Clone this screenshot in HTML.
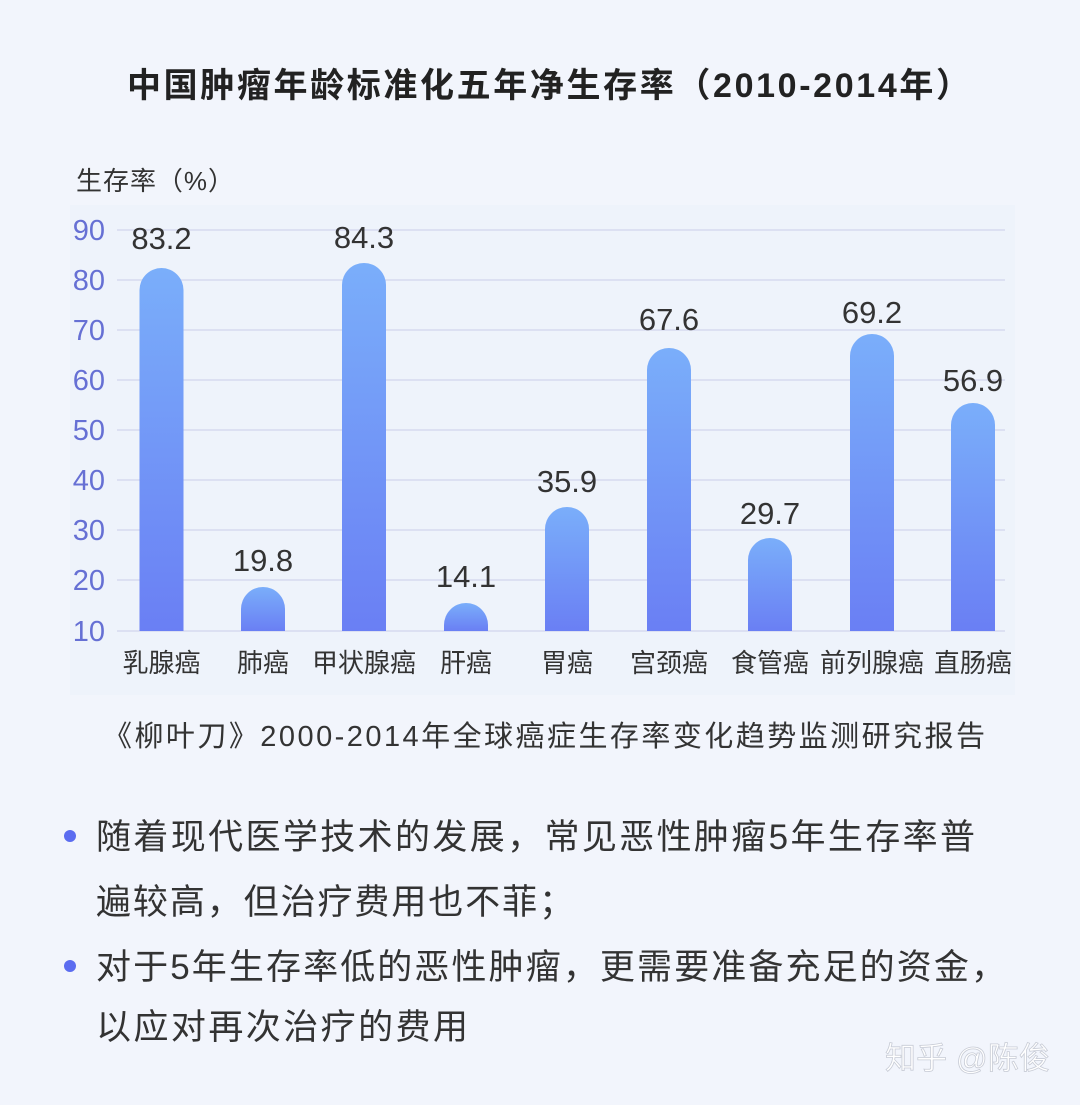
<!DOCTYPE html>
<html><head><meta charset="utf-8"><style>
html,body{margin:0;padding:0;background:#f2f5fc;}
svg{display:block;font-family:"Liberation Sans","Noto Sans CJK SC",sans-serif;}
</style></head><body>
<svg width="1080" height="1105" viewBox="0 0 1080 1105" xmlns="http://www.w3.org/2000/svg">
<defs>
<linearGradient id="g" x1="0" y1="0" x2="0" y2="1">
<stop offset="0" stop-color="#7aaefa"/><stop offset="1" stop-color="#6a7ff4"/>
</linearGradient>
</defs>
<rect width="1080" height="1105" fill="#f2f5fc"/>
<rect x="70" y="205" width="945" height="490" fill="#eef3fb"/>
<text x="127" y="97" font-size="34" font-weight="bold" fill="#222" textLength="843" lengthAdjust="spacing">中国肿瘤年龄标准化五年净生存率（2010-2014年）</text>
<text x="76" y="190" font-size="26" fill="#333" textLength="158" lengthAdjust="spacing">生存率（%）</text>
<g stroke="#d6daf0" stroke-width="1.5">
<line x1="117" y1="230" x2="1005" y2="230"/><line x1="117" y1="280" x2="1005" y2="280"/>
<line x1="117" y1="330" x2="1005" y2="330"/><line x1="117" y1="380" x2="1005" y2="380"/>
<line x1="117" y1="430" x2="1005" y2="430"/><line x1="117" y1="480" x2="1005" y2="480"/>
<line x1="117" y1="530" x2="1005" y2="530"/><line x1="117" y1="580" x2="1005" y2="580"/>
<line x1="117" y1="631" x2="1005" y2="631"/>
</g>
<g font-size="29" fill="#6670d4" text-anchor="end">
<text x="105" y="240">90</text><text x="105" y="290">80</text><text x="105" y="340">70</text>
<text x="105" y="390">60</text><text x="105" y="440">50</text><text x="105" y="490">40</text>
<text x="105" y="540">30</text><text x="105" y="590">20</text><text x="105" y="641">10</text>
</g>
<g fill="url(#g)">
<path d="M139.5 631V290a22 22 0 0 1 44 0V631Z"/>
<path d="M241 631V609a22 22 0 0 1 44 0V631Z"/>
<path d="M342 631V285a22 22 0 0 1 44 0V631Z"/>
<path d="M444 631V625a22 22 0 0 1 44 0V631Z"/>
<path d="M545 631V529a22 22 0 0 1 44 0V631Z"/>
<path d="M647 631V370a22 22 0 0 1 44 0V631Z"/>
<path d="M748 631V560a22 22 0 0 1 44 0V631Z"/>
<path d="M850 631V356a22 22 0 0 1 44 0V631Z"/>
<path d="M951 631V425a22 22 0 0 1 44 0V631Z"/>
</g>
<g font-size="31" fill="#333" text-anchor="middle">
<text x="161.5" y="249">83.2</text>
<text x="263" y="571">19.8</text>
<text x="364" y="248">84.3</text>
<text x="466" y="587">14.1</text>
<text x="567" y="492">35.9</text>
<text x="669" y="330">67.6</text>
<text x="770" y="524">29.7</text>
<text x="872" y="323">69.2</text>
<text x="973" y="391">56.9</text>
</g>
<g font-size="26" fill="#333" text-anchor="middle">
<text x="161.5" y="672">乳腺癌</text><text x="263" y="672">肺癌</text>
<text x="364" y="672">甲状腺癌</text><text x="466" y="672">肝癌</text>
<text x="567" y="672">胃癌</text><text x="669" y="672">宫颈癌</text>
<text x="770" y="672">食管癌</text><text x="872" y="672">前列腺癌</text>
<text x="973" y="672">直肠癌</text>
</g>
<text x="103" y="746" font-size="29" fill="#333" textLength="882" lengthAdjust="spacing">《柳叶刀》2000-2014年全球癌症生存率变化趋势监测研究报告</text>
<g font-size="35" fill="#333">
<text x="96" y="849" textLength="879" lengthAdjust="spacing">随着现代医学技术的发展，常见恶性肿瘤5年生存率普</text>
<text x="96" y="914" textLength="478" lengthAdjust="spacing">遍较高，但治疗费用也不菲；</text>
<text x="96" y="979" textLength="910" lengthAdjust="spacing">对于5年生存率低的恶性肿瘤，更需要准备充足的资金，</text>
<text x="96" y="1039" textLength="372" lengthAdjust="spacing">以应对再次治疗的费用</text>
</g>
<circle cx="70" cy="836" r="6" fill="#5b6cf0"/>
<circle cx="70" cy="966" r="6" fill="#5b6cf0"/>
<text x="885" y="1069" font-size="31" fill="#ffffff" stroke="#c8ccd6" stroke-width="0.8" textLength="165" lengthAdjust="spacing">知乎 @陈俊</text>
</svg>
</body></html>
